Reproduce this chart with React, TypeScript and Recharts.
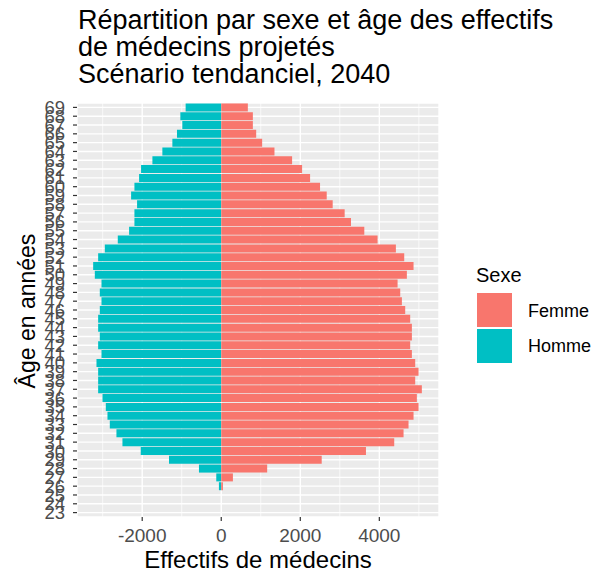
import { BarChart, Bar, XAxis, YAxis, CartesianGrid } from 'recharts';

const ages = [
  69, 68, 67, 66, 65, 64, 63, 62, 61, 60, 59, 58, 57, 56, 55, 54,
  53, 52, 51, 50, 49, 48, 47, 46, 45, 44, 43, 42, 41, 40, 39, 38,
  37, 36, 35, 34, 33, 32, 31, 30, 29, 28, 27, 26, 25, 24, 23,
];

const femme = [
  673, 800, 800, 884, 1035, 1347, 1793, 2046, 2248, 2500, 2669, 2820, 3123, 3283, 3620, 3956,
  4419, 4630, 4866, 4697, 4462, 4529, 4571, 4655, 4781, 4824, 4824, 4781, 4824, 4908, 4992, 4908,
  5076, 4950, 4992, 4866, 4739, 4613, 4377, 3662, 2542, 1162, 295, 42, 0, 0, 0,
];

// effectifs masculins, tracés à gauche (négatifs)
const homme = [
  901, 1035, 985, 1120, 1237, 1490, 1742, 2029, 2079, 2197, 2281, 2130, 2197, 2197, 2332, 2618,
  2946, 3115, 3241, 3199, 3030, 3073, 3030, 3073, 3115, 3115, 3073, 3115, 3030, 3157, 3115, 3115,
  3115, 3005, 2921, 2879, 2820, 2652, 2500, 2037, 1322, 564, 126, 59, 0, 0, 0,
];

const xTicks = [-2000, 0, 2000, 4000];
const xMinor = [-3000, -1000, 1000, 3000, 5000];

const FEMME = '#F8766D';
const HOMME = '#00BFC4';
const FONT = '"Liberation Sans", Arial, Helvetica, sans-serif';

const data = ages.map((age, i) => ({
  age: String(age),
  Femme: femme[i],
  Homme: -homme[i],
}));

export default function App() {
  return (
    <div style={{ position: 'absolute', left: 0, top: 0, width: 600, height: 575, background: '#fff', fontFamily: FONT }}>
      <BarChart
        width={600}
        height={575}
        data={data}
        layout="vertical"
        stackOffset="sign"
        barCategoryGap="5%"
        margin={{ top: 103, right: 161, bottom: 28, left: 37 }}
      >
        <CartesianGrid fill="#EBEBEB" stroke="#FFFFFF" strokeWidth={1.4} />
        <CartesianGrid horizontal={false} verticalValues={xMinor} stroke="#FFFFFF" strokeWidth={0.7} fill="none" />
        <XAxis
          type="number"
          domain={[-3650, 5510]}
          ticks={xTicks}
          axisLine={false}
          tickSize={4}
          tickMargin={8}
          tickLine={{ stroke: '#333333', strokeWidth: 1.2 }}
          tick={{ fill: '#4D4D4D', fontSize: 19, fontFamily: FONT }}
          height={30}
        />
        <YAxis
          type="category"
          dataKey="age"
          interval={0}
          axisLine={false}
          tickSize={4}
          tickMargin={8}
          tickLine={{ stroke: '#333333', strokeWidth: 1.2 }}
          tick={{ fill: '#4D4D4D', fontSize: 18.5, fontFamily: FONT }}
          width={40}
        />
        <Bar dataKey="Homme" stackId="a" fill={HOMME} isAnimationActive={false} />
        <Bar dataKey="Femme" stackId="a" fill={FEMME} isAnimationActive={false} />
      </BarChart>
      <svg
        width={600}
        height={575}
        style={{ position: 'absolute', left: 0, top: 0, pointerEvents: 'none' }}
        fontFamily={FONT}
      >
        <text x={78} y={29} fontSize={27} fill="#000">Répartition par sexe et âge des effectifs</text>
        <text x={78} y={56} fontSize={27} fill="#000">de médecins projetés</text>
        <text x={78} y={83} fontSize={27} fill="#000">Scénario tendanciel, 2040</text>
        <text x={258} y={568} fontSize={24} textAnchor="middle" fill="#000">Effectifs de médecins</text>
        <text transform="translate(35,311) rotate(-90)" fontSize={23} textAnchor="middle" fill="#000">Âge en années</text>
        <text x={476} y={282} fontSize={20} fill="#000">Sexe</text>
        <rect x={477} y={293} width={35} height={34} fill={FEMME} />
        <rect x={477} y={329} width={35} height={34} fill={HOMME} />
        <text x={528} y={317} fontSize={18} fill="#000">Femme</text>
        <text x={528} y={352} fontSize={18} fill="#000">Homme</text>
      </svg>
    </div>
  );
}
